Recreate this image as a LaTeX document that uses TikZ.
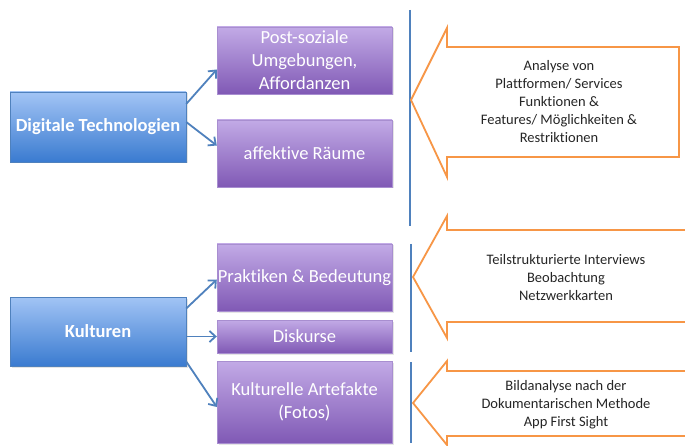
\documentclass[tikz,border=0pt]{standalone}
\usepackage{fontspec}
\setmainfont{Carlito}[Ligatures={NoCommon}]
\usetikzlibrary{arrows.meta,shadows}

\definecolor{bluetop}{HTML}{A2C4F5}
\definecolor{bluebot}{HTML}{3A7BD0}
\definecolor{blueline}{HTML}{4F81BD}
\definecolor{lilatop}{HTML}{C2AAE6}
\definecolor{lilabot}{HTML}{8059B5}
\definecolor{lilaline}{HTML}{A88ED0}
\definecolor{orangeline}{HTML}{F79646}

\tikzset{
  feld/.style={draw=blueline, top color=bluetop, bottom color=bluebot, text=white,
    font=\fontsize{18.5}{22}\selectfont\bfseries, minimum width=176pt, inner sep=0pt,
    drop shadow={opacity=0.2, shadow xshift=1.5pt, shadow yshift=-1.5pt}},
  aspekt/.style={draw=lilaline, top color=lilatop, bottom color=lilabot, text=white,
    font=\fontsize{18.5}{23}\selectfont, minimum width=175pt, inner sep=0pt, align=center,
    drop shadow={opacity=0.2, shadow xshift=1.5pt, shadow yshift=-1.5pt}},
  pfeil/.style={draw=blueline, line width=1.8pt, -{Straight Barb[length=6pt,width=11pt]}},
  trenner/.style={draw=blueline, line width=1.8pt},
  methode/.style={draw=orangeline, line width=1.8pt, fill=white, line join=miter},
  methodtext/.style={text=black!85, font=\fontsize{14.5}{18}\selectfont, align=center}
}

\begin{document}
\begin{tikzpicture}[x=1pt, y=-1pt]
    \clip (0,0) rectangle (685,446);
    \fill[white] (0,0) rectangle (685,446);

    % Felder links
    \node[feld, minimum height=70pt] (DT) at (98,127) {Digitale Technologien};
    \node[feld, minimum height=69pt] (Ku) at (98,331.5) {Kulturen};

    % Aspekte
    \node[aspekt, minimum height=67pt] (PS) at (304.5,60.5) {Post-soziale\\Umgebungen,\\Affordanzen};
    \node[aspekt, minimum height=67pt] (AR) at (304.5,153.5) {affektive Räume};
    \node[aspekt, minimum height=67pt] (PB) at (304.5,277.5) {Praktiken \& Bedeutung};
    \node[aspekt, minimum height=33pt] (Di) at (304.5,336.5) {Diskurse};
    \node[aspekt, minimum height=82pt] (KA) at (304.5,402) {Kulturelle Artefakte\\(Fotos)};

    \draw[pfeil] ([yshift=23pt]DT.east) -- ([yshift=-9pt]PS.west);
    \draw[pfeil] ([yshift=5pt]DT.east) -- ([yshift=8pt]AR.west);
    \draw[pfeil] ([yshift=23pt]Ku.east) -- ([yshift=-2pt]PB.west);
    \draw[pfeil] ([yshift=-5pt]Ku.east) -- (Di.west);
    \draw[pfeil] ([yshift=-30pt]Ku.east) -- ([yshift=-5pt]KA.west);

    % Trennlinien
    \draw[trenner] (410,10) -- (410,226);
    \draw[trenner] (411,244) -- (411,352);
    \draw[trenner] (411,362) -- (411,443);

    % Methoden
    \draw[methode] (411,100) -- (447,28) -- (447,47) -- (679,47) -- (679,157)
      -- (447,157) -- (447,177) -- cycle;
    \draw[methode] (413,277) -- (447,216) -- (447,230) -- (695,230) -- (695,322)
      -- (447,322) -- (447,338) -- cycle;
    \draw[methode] (413,403) -- (447,361) -- (447,371) -- (695,371) -- (695,436)
      -- (447,436) -- (447,445) -- cycle;

    \node[methodtext] (M1) at (559,102) {Analyse von\\Plattformen/ Services\\Funktionen \&\\Features/ Möglichkeiten \&\\Restriktionen};
    \node[methodtext] (M2) at (566,278) {Teilstrukturierte Interviews\\Beobachtung\\Netzwerkkarten};
    \node[methodtext] (M3) at (566,405) {Bildanalyse nach der\\Dokumentarischen Methode\\App First Sight};
\end{tikzpicture}
\end{document}
